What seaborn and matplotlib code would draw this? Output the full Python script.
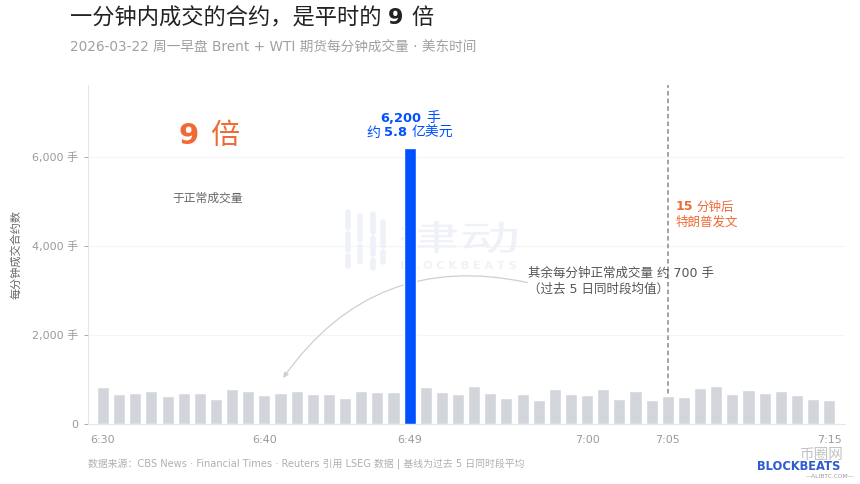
import numpy as np
import pandas as pd
import matplotlib
matplotlib.use("Agg")
import matplotlib.pyplot as plt
import seaborn as sns
from matplotlib.textpath import TextPath
from matplotlib.patches import PathPatch
from matplotlib.font_manager import FontProperties
from matplotlib.transforms import Affine2D

# data (contracts per minute, 6:30 - 7:15)
minutes = [f"{6 + (30 + i) // 60}:{(30 + i) % 60:02d}" for i in range(46)]
volumes = [840, 670, 700, 735, 640, 700, 700, 560, 780, 750,
           650, 690, 740, 680, 680, 580, 740, 710, 730, 6200,
           825, 710, 670, 855, 700, 580, 670, 540, 780, 670,
           645, 780, 560, 740, 540, 640, 600, 810, 845, 675,
           765, 690, 740, 645, 555, 545]
spike_label = "6:49"
event_label = "7:05"
tick_labels = ["6:30", "6:40", "6:49", "7:00", "7:05", "7:15"]
y_ticks = [0, 2000, 4000, 6000]

sns.set_theme(style="white")
plt.rcParams["font.family"] = ["DejaVu Sans", "Noto Sans CJK SC"]

GRAY_BAR = "#d2d5da"
BLUE = "#0050ff"
ORANGE = "#f06a35"
WM = "#eef1f7"
W, H = 860, 484

df = pd.DataFrame({"minute": minutes, "volume": volumes})
df["kind"] = np.where(df["minute"] == spike_label, "spike", "normal")

fig = plt.figure(figsize=(8.6, 4.84), dpi=100)
ax = fig.add_axes([88 / W, 60 / H, 757 / W, 339 / H])

sns.barplot(data=df, x="minute", y="volume", hue="kind", order=minutes,
            palette={"normal": GRAY_BAR, "spike": BLUE}, width=0.75,
            dodge=False, legend=False, saturation=1, ax=ax, zorder=3)

ax.set_xlim(-0.93, 45.98)
ax.set_ylim(0, 7620)
ax.set_yticks(y_ticks)
ax.set_yticklabels(["0"] + [f"{v:,} 手" for v in y_ticks[1:]])
ax.set_xticks([minutes.index(t) for t in tick_labels])
ax.set_xticklabels(tick_labels)
ax.tick_params(axis="y", colors="#9a9a9a", labelsize=8, length=3, width=0.6,
               left=True, pad=4)
ax.tick_params(axis="x", colors="#9a9a9a", labelsize=8, length=0, pad=8)
ax.set_xlabel("")
ax.set_ylabel("每分钟成交合约数", color="#666666", fontsize=8)
ax.yaxis.set_label_coords(-0.088, 0.5)
for s in ["top", "right"]:
    ax.spines[s].set_visible(False)
for s in ["left", "bottom"]:
    ax.spines[s].set_color("#e6e6e6")
    ax.spines[s].set_linewidth(0.8)
ax.grid(axis="y", color="#f4f4f4", linewidth=0.8, zorder=0)
ax.set_axisbelow(True)

# faint watermark behind the bars (wide logo lettering)
wm = TextPath((0, 0), "律动", size=1, prop=FontProperties(family="Noto Sans CJK SC"))
ext = wm.get_extents()
sx, sy = 117 / ext.width, 32 / ext.height
wm_tr = Affine2D().translate(-ext.x0, -ext.y0).scale(sx, sy).translate(400, H - 253)
ax.add_patch(PathPatch(wm, transform=wm_tr, facecolor=WM, edgecolor="none",
                       zorder=1, clip_on=False))
for x0, segs in [(348, [(212, 228), (234, 250), (256, 266)]),
                 (360, [(216, 240), (246, 262)]),
                 (373, [(214, 232), (238, 254), (260, 268)]),
                 (383, [(222, 246), (252, 262)])]:
    for y0, y1 in segs:
        ax.add_line(plt.Line2D([x0, x0], [H - y0, H - y1], transform=None,
                               color=WM, lw=4, solid_capstyle="round",
                               zorder=1))
ax.text(22.0, 3560, "B L O C K B E A T S", fontsize=8, color="#f0f2f7",
        ha="center", va="center", fontweight="bold", zorder=1)

# event line
ax.axvline(minutes.index(event_label), color="#8a8a8a",
           linestyle=(0, (3, 2)), linewidth=1.1, zorder=2)


def piece(x, y, s, size, color, weight="normal"):
    # x, y in picture pixels from top-left
    fam = ["DejaVu Sans"] if s.isascii() else ["DejaVu Sans", "Noto Sans CJK SC"]
    fig.text(x / W, 1 - y / H, s, fontsize=size, color=color, family=fam,
             fontweight=weight, ha="left", va="center")


# blue spike label
piece(380, 118, "6,200", 9.4, BLUE, "bold")
piece(426, 118, "手", 10, BLUE)
piece(366, 133, "约", 10, BLUE)
piece(384, 133, "5.8", 9.4, BLUE, "bold")
piece(412, 133, "亿美元", 10, BLUE)

# big callout
piece(178, 136, "9", 21, ORANGE, "bold")
piece(210, 136, "倍", 21, ORANGE)
piece(172, 198, "于正常成交量", 8.5, "#666666")

# event annotation
piece(676, 207, "15", 9, ORANGE, "bold")
piece(696, 207, "分钟后", 9, ORANGE)
piece(676, 222, "特朗普发文", 9, ORANGE)

# baseline note with curved arrow
ax.text(26.35, 3210, "其余每分钟正常成交量 约 700 手\n（过去 5 日同时段均值）",
        fontsize=9, color="#555555", ha="left", va="center",
        linespacing=1.3, zorder=5)
ax.annotate("", xy=(11.16, 1034), xytext=(26.3, 3180),
            arrowprops=dict(arrowstyle="-|>,head_length=0.25,head_width=0.12",
                            color="#cfcfcf", lw=0.9, shrinkA=0, shrinkB=0,
                            connectionstyle="arc3,rad=0.33"), zorder=2)

# titles
piece(70, 18, "一分钟内成交的合约，是平时的", 16, "#222222")
piece(388, 18, "9", 16, "#222222", "bold")
piece(411, 18, "倍", 16, "#222222")
piece(70, 47, "2026-03-22 周一早盘 Brent + WTI 期货每分钟成交量 · 美东时间",
      9.8, "#a0a0a0")

# footer
piece(88, 464, "数据来源：CBS News · Financial Times · Reuters 引用 LSEG 数据 | 基线为过去 5 日同时段平均",
      7.1, "#b0b0b0")
piece(800, 454, "币圈网", 10.5, "#c2c2c2")
piece(757, 467, "BLOCKBEATS", 8.3, "#2f5bd0", "bold")
piece(806, 477, "—ALIBTC.COM—", 4.3, "#9a9a9a")

fig.savefig("out.png", dpi=100)
